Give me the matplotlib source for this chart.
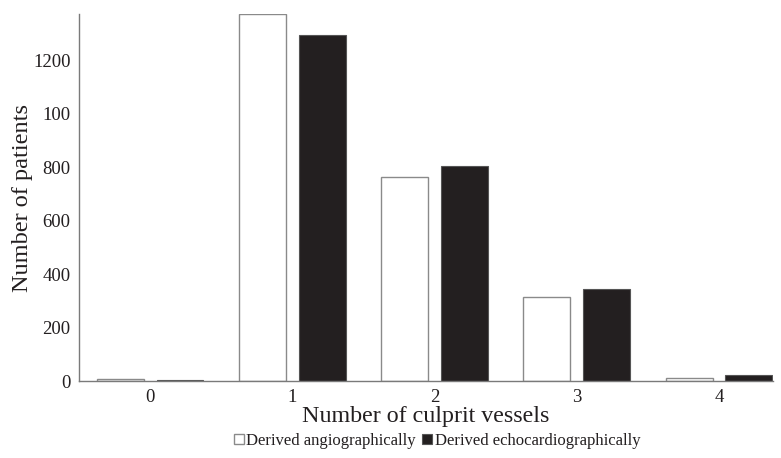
import matplotlib
matplotlib.use("Agg")
import matplotlib.pyplot as plt
import numpy as np

categories = ["0", "1", "2", "3", "4"]
angio = [6, 1371, 764, 313, 12]
echo = [2, 1295, 805, 344, 22]
yticks = [0, 200, 400, 600, 800, 1000, 1200]
ytick_labels = ["0", "200", "400", "600", "800", "100", "1200"]

plt.rcParams['font.family'] = ['Liberation Serif', 'DejaVu Serif']

fig = plt.figure(figsize=(7.81, 4.58), dpi=100)
ax = fig.add_axes([79/781, 1-381/458, (773-79)/781, (381-14.3)/458])

x = np.arange(len(categories))
w = 0.33
off = 0.21
ax.bar(x - off, angio, width=w, color="white", edgecolor="#8a8a8a", linewidth=1.0,
       label="Derived angiographically")
ax.bar(x + off, echo, width=w, color="#231f20", edgecolor="#555555", linewidth=0.8,
       label="Derived echocardiographically")

ax.set_xlim(-0.5, 4 + off + w/2 + 0.005)
ax.set_ylim(0, 1371)
ax.set_xticks(x)
ax.set_xticklabels(categories)
ax.set_yticks(yticks)
ax.set_yticklabels(ytick_labels)
ax.tick_params(length=0, labelsize=13.5, colors="#231f20")
ax.tick_params(axis="y", pad=6)
ax.tick_params(axis="x", pad=6)
for s in ["top", "right"]:
    ax.spines[s].set_visible(False)
for s in ["left", "bottom"]:
    ax.spines[s].set_color("#7a7a7a")
    ax.spines[s].set_linewidth(1.0)

ax.set_xlabel("Number of culprit vessels", fontsize=17.3, color="#231f20", labelpad=0)
ax.set_ylabel("Number of patients", fontsize=17.5, color="#231f20", labelpad=0)

leg = fig.legend(loc="center", bbox_to_anchor=(437/781, 1-441/458), ncol=2, frameon=False,
                 fontsize=12, handlelength=0.6, handleheight=0.6, handletextpad=0.15,
                 columnspacing=0.4)
for t in leg.get_texts():
    t.set_color("#231f20")

fig.savefig("out.png", dpi=100)
